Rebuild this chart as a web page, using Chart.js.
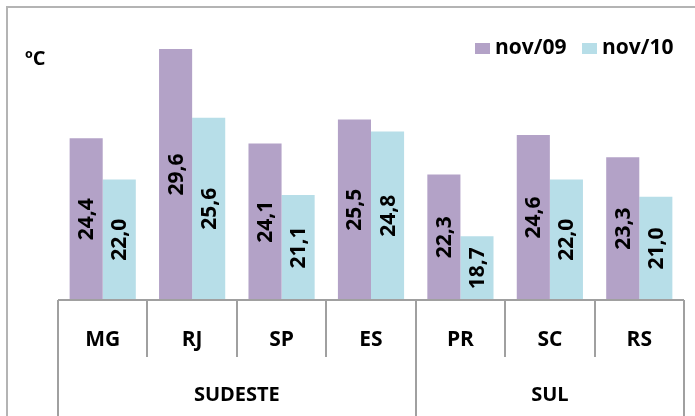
<!DOCTYPE html>
<html>
<head>
<meta charset="utf-8">
<script src="https://cdn.jsdelivr.net/npm/chart.js@4"></script>
<style>
  html, body { margin: 0; padding: 0; background: #fff; }
  #wrap { position: relative; width: 695px; height: 416px; }
</style>
</head>
<body>
<div id="wrap"><canvas id="chart" width="695" height="416"></canvas></div>
<script>
// data
const states = ["MG", "RJ", "SP", "ES", "PR", "SC", "RS"];
const regions = ["SUDESTE", "SUL"];
const regionSpans = [4, 3];
const seriesNames = ["nov/09", "nov/10"];
const nov09 = [24.4, 29.6, 24.1, 25.5, 22.3, 24.6, 23.3];
const nov10 = [22.0, 25.6, 21.1, 24.8, 18.7, 22.0, 21.0];
const unitLabel = "ºC";

const PURPLE = "#b3a2c7";
const CYAN = "#b7dee8";
const LINE = "#a0a0a0";
const FONT = "'Open Sans', sans-serif";

/* labels inside bars, rotated */
const barLabels = {
  id: "barLabels",
  afterDatasetsDraw(chart) {
    const { ctx, chartArea } = chart;
    ctx.save();
    ctx.font = `700 21px ${FONT}`;
    ctx.fillStyle = "#000";
    ctx.textAlign = "center";
    ctx.textBaseline = "middle";
    chart.data.datasets.forEach((ds, di) => {
      chart.getDatasetMeta(di).data.forEach((bar, i) => {
        const bottom = Math.min(bar.base, chartArea.bottom);
        const y = (bar.y + bottom) / 2;
        ctx.save();
        ctx.translate(bar.x, y);
        ctx.rotate(-Math.PI / 2);
        ctx.fillText(ds.data[i].toFixed(1).replace(".", ","), 0, 1);
        ctx.restore();
      });
    });
    ctx.restore();
  }
};

/* frame, two-level category axis, legend, unit */
const decorations = {
  id: "decorations",
  afterDraw(chart) {
    const { ctx, chartArea, scales } = chart;
    const x = scales.x;
    const H = chart.height;
    const n = states.length;
    const cw = (chartArea.right - chartArea.left) / n;
    const base = chartArea.bottom;
    ctx.save();

    // outer frame (top + left)
    ctx.strokeStyle = "#b4b4b4";
    ctx.lineWidth = 2;
    ctx.beginPath();
    ctx.moveTo(7, H);
    ctx.lineTo(7, 7);
    ctx.lineTo(chart.width, 7);
    ctx.stroke();

    // axis line
    ctx.strokeStyle = LINE;
    ctx.lineWidth = 2;
    ctx.beginPath();
    ctx.moveTo(chartArea.left, base);
    ctx.lineTo(chartArea.right, base);
    ctx.stroke();

    // dividers
    const groupEdges = [0];
    regionSpans.reduce((acc, s) => { groupEdges.push(acc + s); return acc + s; }, 0);
    for (let i = 0; i <= n; i++) {
      const edge = i === n
        ? Math.round(x.getPixelForValue(n - 1) + cw / 2)
        : Math.round(x.getPixelForValue(i) - cw / 2);
      const isGroup = groupEdges.includes(i);
      ctx.beginPath();
      ctx.moveTo(edge, base);
      ctx.lineTo(edge, isGroup ? H : base + 57);
      ctx.stroke();
    }

    // state labels
    ctx.fillStyle = "#000";
    ctx.font = `700 21px ${FONT}`;
    ctx.textAlign = "center";
    ctx.textBaseline = "middle";
    states.forEach((s, i) => ctx.fillText(s, x.getPixelForValue(i), base + 40));

    // region labels
    ctx.font = `700 20px ${FONT}`;
    let start = 0;
    regions.forEach((r, gi) => {
      const end = start + regionSpans[gi] - 1;
      const cx = (x.getPixelForValue(start) + x.getPixelForValue(end)) / 2;
      ctx.fillText(r, cx, base + 95);
      start = end + 1;
    });

    // unit
    ctx.textAlign = "left";
    ctx.fillText(unitLabel, 25, 59);

    // legend
    ctx.font = `700 21px ${FONT}`;
    const colors = [PURPLE, CYAN];
    const lx = [475, 582];
    seriesNames.forEach((name, i) => {
      ctx.fillStyle = colors[i];
      ctx.fillRect(lx[i], 43, 15, 11);
      ctx.fillStyle = "#000";
      ctx.fillText(name, lx[i] + 20, 48);
    });

    ctx.restore();
  }
};

new Chart(document.getElementById("chart"), {
  type: "bar",
  data: {
    labels: states,
    datasets: [
      { label: seriesNames[0], data: nov09, backgroundColor: PURPLE },
      { label: seriesNames[1], data: nov10, backgroundColor: CYAN }
    ]
  },
  options: {
    responsive: false,
    animation: false,
    layout: { padding: { left: 58, right: 11, top: 42, bottom: 116 } },
    datasets: { bar: { categoryPercentage: 0.74, barPercentage: 1.0, borderWidth: 0 } },
    plugins: { legend: { display: false }, tooltip: { enabled: false } },
    scales: {
      x: { display: false },
      y: { display: false, min: 15, max: 30 }
    }
  },
  plugins: [barLabels, decorations]
});
</script>
</body>
</html>
